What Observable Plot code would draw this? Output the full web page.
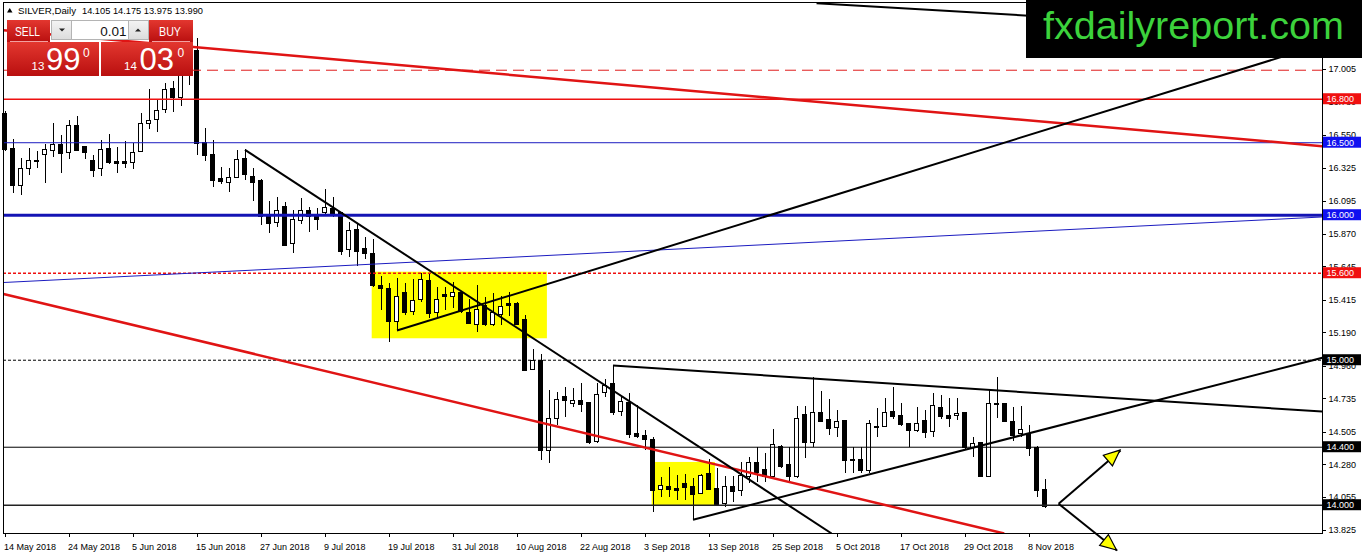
<!DOCTYPE html>
<html><head><meta charset="utf-8">
<script src="https://cdn.jsdelivr.net/npm/d3@7"></script>
<script src="https://cdn.jsdelivr.net/npm/@observablehq/plot@0.6"></script>
<style>
html,body{margin:0;padding:0;background:#fff;}
#chart{position:relative;width:1362px;height:554px;overflow:hidden;}
#chart svg{display:block;}
</style></head><body><div id="chart"></div>
<script>
// ---------------- DATA ----------------
const symbol = "SILVER,Daily";
const dates = [
"2018-05-14","2018-05-15","2018-05-16","2018-05-17","2018-05-18","2018-05-21","2018-05-22","2018-05-23","2018-05-24","2018-05-25","2018-05-28","2018-05-29","2018-05-30","2018-05-31",
"2018-06-01","2018-06-04","2018-06-05","2018-06-06","2018-06-07","2018-06-08","2018-06-11","2018-06-12","2018-06-13","2018-06-14","2018-06-15","2018-06-18","2018-06-19","2018-06-20","2018-06-21","2018-06-22","2018-06-25","2018-06-26","2018-06-27","2018-06-28","2018-06-29",
"2018-07-02","2018-07-03","2018-07-04","2018-07-05","2018-07-06","2018-07-09","2018-07-10","2018-07-11","2018-07-12","2018-07-13","2018-07-16","2018-07-17","2018-07-18","2018-07-19","2018-07-20","2018-07-23","2018-07-24","2018-07-25","2018-07-26","2018-07-27","2018-07-30","2018-07-31",
"2018-08-01","2018-08-02","2018-08-03","2018-08-06","2018-08-07","2018-08-08","2018-08-09","2018-08-10","2018-08-13","2018-08-14","2018-08-15","2018-08-16","2018-08-17","2018-08-20","2018-08-21","2018-08-22","2018-08-23","2018-08-24","2018-08-27","2018-08-28","2018-08-29","2018-08-30","2018-08-31",
"2018-09-03","2018-09-04","2018-09-05","2018-09-06","2018-09-07","2018-09-10","2018-09-11","2018-09-12","2018-09-13","2018-09-14","2018-09-17","2018-09-18","2018-09-19","2018-09-20","2018-09-21","2018-09-24","2018-09-25","2018-09-26","2018-09-27","2018-09-28",
"2018-10-01","2018-10-02","2018-10-03","2018-10-04","2018-10-05","2018-10-08","2018-10-09","2018-10-10","2018-10-11","2018-10-12","2018-10-15","2018-10-16","2018-10-17","2018-10-18","2018-10-19","2018-10-22","2018-10-23","2018-10-24","2018-10-25","2018-10-26","2018-10-29","2018-10-30","2018-10-31",
"2018-11-01","2018-11-02","2018-11-05","2018-11-06","2018-11-07","2018-11-08","2018-11-09","2018-11-12"];

const opens = [16.700,16.458,16.200,16.320,16.377,16.412,16.446,16.486,16.431,16.612,16.469,16.377,16.320,16.458,
16.370,16.364,16.362,16.435,16.630,16.658,16.727,16.872,16.810,16.980,17.136,16.497,16.412,16.248,16.221,16.258,16.389,16.267,16.233,16.005,15.945,
16.060,15.803,15.959,16.026,15.991,16.014,16.044,16.014,15.757,15.895,15.768,15.734,15.515,15.493,15.262,15.465,15.336,15.417,15.545,15.324,15.451,15.435,
15.462,15.324,15.246,15.377,15.246,15.313,15.385,15.385,15.278,14.934,14.993,14.372,14.596,14.745,14.699,14.722,14.704,14.435,14.773,14.833,14.641,14.704,14.493,
14.474,14.451,14.102,14.129,14.113,14.148,14.124,14.079,14.217,14.113,14.010,14.124,14.095,14.198,14.290,14.244,14.198,14.405,14.274,14.193,
14.619,14.428,14.635,14.585,14.534,14.578,14.314,14.314,14.235,14.538,14.538,14.640,14.612,14.557,14.511,14.578,14.504,14.672,14.612,14.612,14.635,14.396,14.428,
14.198,14.690,14.695,14.573,14.488,14.493,14.396,14.105];
const highs = [16.715,16.520,16.389,16.458,16.442,16.488,16.635,16.550,16.653,16.681,16.475,16.412,16.515,16.557,
16.465,16.508,16.497,16.699,16.865,16.796,16.906,16.924,17.020,17.300,17.219,16.596,16.515,16.331,16.320,16.446,16.451,16.320,16.244,16.097,16.124,
16.090,16.033,16.113,16.055,16.044,16.175,16.120,16.021,15.952,15.936,15.844,15.832,15.577,15.527,15.562,15.527,15.555,15.600,15.600,15.499,15.504,15.538,
15.469,15.417,15.515,15.434,15.458,15.440,15.469,15.400,15.308,15.072,15.039,14.791,14.779,14.814,14.803,14.838,14.710,14.838,14.865,14.964,14.750,14.773,14.688,
14.515,14.465,14.193,14.258,14.205,14.212,14.186,14.212,14.313,14.251,14.198,14.198,14.297,14.331,14.400,14.355,14.520,14.410,14.400,14.681,
14.681,14.879,14.787,14.727,14.653,14.585,14.396,14.396,14.585,14.665,14.734,14.814,14.699,14.560,14.676,14.653,14.768,14.757,14.734,14.734,14.640,14.469,14.435,
14.791,14.879,14.700,14.672,14.681,14.550,14.405,14.175];
const lows = [16.440,16.152,16.136,16.274,16.320,16.217,16.400,16.290,16.382,16.440,16.382,16.262,16.267,16.350,
16.290,16.320,16.313,16.430,16.591,16.573,16.699,16.706,16.750,16.895,16.412,16.373,16.193,16.212,16.155,16.250,16.239,16.097,15.929,15.876,15.913,
15.785,15.734,15.936,15.883,15.895,15.991,15.982,15.722,15.711,15.646,15.693,15.500,15.343,15.124,15.205,15.308,15.308,15.400,15.286,15.286,15.343,15.355,
15.320,15.246,15.193,15.233,15.233,15.240,15.302,15.240,14.920,14.930,14.308,14.286,14.549,14.607,14.672,14.641,14.420,14.428,14.740,14.619,14.612,14.458,14.458,
14.378,13.952,14.055,14.055,14.033,14.033,13.900,14.075,14.100,13.996,13.987,14.021,14.060,14.147,14.159,14.159,14.190,14.255,14.147,14.185,
14.320,14.400,14.570,14.481,14.469,14.217,14.217,14.217,14.221,14.465,14.535,14.589,14.545,14.400,14.505,14.458,14.469,14.589,14.538,14.584,14.382,14.327,14.189,
14.190,14.596,14.570,14.442,14.469,14.336,14.055,13.975];
const closes = [16.451,16.205,16.320,16.377,16.370,16.451,16.486,16.424,16.612,16.442,16.431,16.304,16.451,16.359,
16.352,16.355,16.431,16.630,16.653,16.722,16.865,16.807,16.980,17.150,16.488,16.407,16.235,16.228,16.255,16.382,16.274,16.221,15.986,15.941,16.028,
15.791,15.968,16.028,15.986,15.964,16.051,15.998,15.745,15.890,15.745,15.734,15.511,15.493,15.262,15.435,15.324,15.407,15.555,15.320,15.417,15.435,15.462,
15.331,15.251,15.348,15.240,15.324,15.366,15.371,15.246,14.924,14.993,14.372,14.596,14.727,14.722,14.722,14.692,14.428,14.757,14.819,14.635,14.710,14.481,14.469,
14.451,14.097,14.136,14.106,14.097,14.120,14.072,14.205,14.106,14.000,14.124,14.090,14.205,14.290,14.221,14.198,14.412,14.262,14.193,14.596,
14.428,14.635,14.573,14.527,14.573,14.307,14.304,14.235,14.557,14.531,14.635,14.607,14.550,14.515,14.557,14.497,14.681,14.607,14.596,14.631,14.396,14.419,14.193,
14.695,14.695,14.573,14.474,14.520,14.389,14.097,13.990];

const tickDates = ["2018-05-14","2018-05-24","2018-06-05","2018-06-15","2018-06-27","2018-07-09","2018-07-19","2018-07-31","2018-08-10","2018-08-22","2018-09-03","2018-09-13","2018-09-25","2018-10-05","2018-10-17","2018-10-29","2018-11-08"];
const tickLabels = ["14 May 2018","24 May 2018","5 Jun 2018","15 Jun 2018","27 Jun 2018","9 Jul 2018","19 Jul 2018","31 Jul 2018","10 Aug 2018","22 Aug 2018","3 Sep 2018","13 Sep 2018","25 Sep 2018","5 Oct 2018","17 Oct 2018","29 Oct 2018","8 Nov 2018"];
const yTicks = [17.005,16.780,16.550,16.325,16.095,15.870,15.645,15.415,15.190,14.960,14.735,14.505,14.280,14.055,13.825];

// horizontal levels (price) and which carry a price tag
const levels = [17.0, 16.8, 16.5, 16.0, 15.6, 15.0, 14.4, 14.0];
const taggedLevels = [16.8, 16.5, 16.0, 15.6, 15.0, 14.4, 14.0];

// trend lines: bar index / price of both ends
const trendNames = ["redTop","redLow","blueThin","blackDown","blackUp","blackTop","triUpper","triLower"];
const trendI1 = [-0.19, -0.19, -0.19, 30, 49, 101.44, 76, 86];
const trendP1 = [17.275, 15.457, 15.536, 16.451, 15.205, 17.462, 14.964, 13.900];
const trendI2 = [164.69, 124.9, 164.69, 103.33, 164.69, 164.69, 164.69, 164.69];
const trendP2 = [16.476, 13.805, 15.988, 13.805, 17.179, 17.257, 14.646, 15.017];

// highlighted zones
const boxI1 = [45.9, 80.9], boxI2 = [67.8, 88.8];
const boxP1 = [15.148, 13.991], boxP2 = [15.607, 14.295];

// scenario arrows
const arrowFromI = 131.7, arrowFromP = 14.010;
const arrowToI = [139.44, 139.0], arrowToP = [14.377, 13.688];

// trade panel quotes
const sellQuote = ["13", "99", "0"], buyQuote = ["14", "03", "0"], lotSize = "0.01";
const watermark = "fxdailyreport.com";

// ---------------- STYLES ----------------
const levelStyle = {
  "17": {stroke: "#e01c1c", w: 1, dash: "11,6"},
  "16.8": {stroke: "#ee1010", w: 1.4},
  "16.5": {stroke: "#1c1cc0", w: 1},
  "16": {stroke: "#1414b4", w: 3},
  "15.6": {stroke: "#ee1010", w: 1.3, dash: "3,2"},
  "15": {stroke: "#000", w: 1, dash: "3,2"},
  "14.4": {stroke: "#000", w: 1},
  "14": {stroke: "#222", w: 1.5}
};
const tagFill = {"16.8": "#f01010", "16.5": "#1010f0", "16": "#1010f0", "15.6": "#f01010", "15": "#000", "14.4": "#000", "14": "#000"};
const trendStyle = {
  redTop: {stroke: "#e01414", w: 2.5}, redLow: {stroke: "#e01414", w: 2.5},
  blueThin: {stroke: "#1c1cc0", w: 1}, blackDown: {stroke: "#000", w: 2},
  blackUp: {stroke: "#000", w: 2}, blackTop: {stroke: "#000", w: 2},
  triUpper: {stroke: "#000", w: 2}, triLower: {stroke: "#000", w: 2}
};

// ---------------- BUILD ----------------
const candles = dates.map((d, i) => ({i, d, o: opens[i], h: highs[i], l: lows[i], c: closes[i]}));
const tickIdx = tickDates.map(d => dates.indexOf(d));
const trends = trendNames.map((n, k) => ({n, i1: trendI1[k], p1: trendP1[k], i2: trendI2[k], p2: trendP2[k]}));
const boxes = boxI1.map((v, k) => ({i1: v, i2: boxI2[k], p1: boxP1[k], p2: boxP2[k]}));
const arrows = arrowToI.map((v, k) => ({i1: arrowFromI, p1: arrowFromP, i2: v, p2: arrowToP[k]}));

const XMIN = -0.1875, XMAX = 164.6875, YMIN = 13.805, YMAX = 17.4671;
const PX = 1 / 8;          // one pixel in bar units
const PY = 1 / 145;        // one pixel in price units

const marks = [
  Plot.rect(boxes, {x1: "i1", x2: "i2", y1: "p1", y2: "p2", fill: "#ffff00"}),
  Plot.ruleX(candles, {x: "i", y1: "l", y2: "h", stroke: "#000", strokeWidth: 1, shapeRendering: "crispEdges"}),
  Plot.rect(candles.filter(d => d.c >= d.o), {x1: d => d.i - 0.25, x2: d => d.i + 0.25, y1: "o", y2: "c", fill: "#fff", stroke: "#000", strokeWidth: 1, shapeRendering: "crispEdges"}),
  Plot.rect(candles.filter(d => d.c < d.o), {x1: d => d.i - 0.25, x2: d => d.i + 0.25, y1: "o", y2: "c", fill: "#000", stroke: "#000", strokeWidth: 1, shapeRendering: "crispEdges"}),
  ...levels.map(p => {
    const s = levelStyle[String(p)];
    return Plot.ruleY([p], {stroke: s.stroke, strokeWidth: s.w, strokeDasharray: s.dash});
  }),
  ...trends.map(t => Plot.link([t], {x1: "i1", y1: "p1", x2: "i2", y2: "p2", stroke: trendStyle[t.n].stroke, strokeWidth: trendStyle[t.n].w, clip: true})),
  Plot.frame({stroke: "#000", strokeWidth: 1, shapeRendering: "crispEdges"}),
  // right price axis
  Plot.ruleY(yTicks, {x1: XMAX, x2: XMAX + 4 * PX, stroke: "#000", shapeRendering: "crispEdges"}),
  Plot.text(yTicks, {y: d => d, frameAnchor: "right", dx: 6, textAnchor: "start", text: d => d.toFixed(3), fill: "#000", fontSize: 9}),
  // date axis
  Plot.ruleX(tickIdx, {x: d => d, y1: YMIN, y2: YMIN - 4 * PY, stroke: "#000", shapeRendering: "crispEdges"}),
  Plot.text(tickIdx, {x: d => d, frameAnchor: "bottom", lineAnchor: "bottom", dy: 16, dx: -1, textAnchor: "start", text: (d, j) => tickLabels[j], fill: "#000", fontSize: 9}),
  // price tags
  ...taggedLevels.map(p => Plot.rect([p], {x1: XMAX + PX, x2: XMAX + 39 * PX, y1: d => d - 5.5 * PY, y2: d => d + 5.5 * PY, fill: tagFill[String(p)]})),
  ...taggedLevels.map(p => Plot.text([p], {y: d => d, frameAnchor: "right", dx: 4, textAnchor: "start", text: d => d.toFixed(3), fill: "#fff", fontSize: 9})),
  // arrows shafts
  Plot.link(arrows, {x1: "i1", y1: "p1", x2: "i2", y2: "p2", stroke: "#000", strokeWidth: 2})
];

const chart = Plot.plot({
  width: 1362, height: 554,
  marginLeft: 3, marginRight: 40, marginTop: 2, marginBottom: 21,
  x: {domain: [XMIN, XMAX], axis: null},
  y: {domain: [YMIN, YMAX], axis: null},
  style: {fontFamily: "'Liberation Sans', Arial, sans-serif", fontSize: "9px", background: "#ffffff", overflow: "visible", color: "#000"},
  marks
});
document.getElementById("chart").appendChild(chart);

// ---------------- DECORATIONS (drawn with Plot's scales) ----------------
const sx = chart.scale("x"), sy = chart.scale("y");
const svg = d3.select(chart);
const FONT = "'Liberation Sans', Arial, sans-serif";

// arrowheads
arrows.forEach(a => {
  const x0 = sx.apply(a.i1), y0 = sy.apply(a.p1), x1 = sx.apply(a.i2), y1 = sy.apply(a.p2);
  const len = Math.hypot(x1 - x0, y1 - y0), ux = (x1 - x0) / len, uy = (y1 - y0) / len;
  const L = 16, Wd = 7, bx = x1 - ux * L, by = y1 - uy * L;
  svg.append("polygon")
    .attr("points", [[x1, y1], [bx - uy * Wd, by + ux * Wd], [bx + uy * Wd, by - ux * Wd]].map(p => p.join(",")).join(" "))
    .attr("fill", "#ffff00").attr("stroke", "#000").attr("stroke-width", 1.2).attr("stroke-linejoin", "miter");
});

const txt = (parent, x, y, s, str, opts = {}) => {
  const e = parent.append("text").attr("x", x).attr("y", y).attr("font-family", FONT).attr("font-size", s)
    .attr("fill", opts.fill || "#fff").attr("text-anchor", opts.anchor || "start").text(str);
  if (opts.len) e.attr("textLength", opts.len).attr("lengthAdjust", "spacingAndGlyphs");
  return e;
};

// header
svg.append("polygon").attr("points", "7,12.5 12.5,12.5 9.75,8").attr("fill", "#000");
const last = candles[candles.length - 1];
txt(svg, 18, 14, 9.7, symbol, {fill: "#000", len: 58});
txt(svg, 82, 14, 9.7, [last.o, last.h, last.l, last.c].map(v => v.toFixed(3)).join(" "), {fill: "#000", len: 121});

// trade panel
const defs = svg.append("defs");
const gr = defs.append("linearGradient").attr("id", "redg").attr("x1", 0).attr("y1", 0).attr("x2", 0).attr("y2", 1);
gr.append("stop").attr("offset", "0%").attr("stop-color", "#e3372f");
gr.append("stop").attr("offset", "100%").attr("stop-color", "#b90f0f");
const gg = defs.append("linearGradient").attr("id", "grayg").attr("x1", 0).attr("y1", 0).attr("x2", 0).attr("y2", 1);
gg.append("stop").attr("offset", "0%").attr("stop-color", "#f4f4f4");
gg.append("stop").attr("offset", "100%").attr("stop-color", "#dcdcdc");
const P = svg.append("g");
P.append("rect").attr("x", 7).attr("y", 20).attr("width", 43).attr("height", 22).attr("fill", "url(#redg)");
P.append("rect").attr("x", 149).attr("y", 20).attr("width", 44).attr("height", 22).attr("fill", "url(#redg)");
P.append("rect").attr("x", 51.5).attr("y", 20.5).attr("width", 20).attr("height", 19).attr("fill", "url(#grayg)").attr("stroke", "#b4b4b4");
P.append("rect").attr("x", 71.5).attr("y", 20.5).attr("width", 57).attr("height", 19).attr("fill", "#fff").attr("stroke", "#b4b4b4");
P.append("rect").attr("x", 128.5).attr("y", 20.5).attr("width", 20).attr("height", 19).attr("fill", "url(#grayg)").attr("stroke", "#b4b4b4");
P.append("polygon").attr("points", "59,28.5 65,28.5 62,31.5").attr("fill", "#222");
P.append("polygon").attr("points", "135,31.5 141,31.5 138,28.5").attr("fill", "#222");
P.append("rect").attr("x", 7).attr("y", 42).attr("width", 92).attr("height", 34).attr("fill", "url(#redg)");
P.append("rect").attr("x", 101).attr("y", 42).attr("width", 92).attr("height", 34).attr("fill", "url(#redg)");
P.append("line").attr("x1", 10).attr("x2", 48).attr("y1", 41.5).attr("y2", 41.5).attr("stroke", "#f2a0a0");
P.append("line").attr("x1", 152).attr("x2", 190).attr("y1", 41.5).attr("y2", 41.5).attr("stroke", "#f2a0a0");
txt(P, 15, 36, 13.5, "SELL", {len: 25});
txt(P, 159, 36, 13.5, "BUY", {len: 22});
txt(P, 126.5, 35.5, 13.5, lotSize, {fill: "#111", anchor: "end"});
txt(P, 31.5, 69.5, 11.5, sellQuote[0]);
txt(P, 46, 69.5, 31, sellQuote[1]);
txt(P, 83, 56.5, 12, sellQuote[2]);
txt(P, 124, 69.5, 11.5, buyQuote[0]);
txt(P, 139.5, 69.5, 31, buyQuote[1]);
txt(P, 177.5, 56.5, 12, buyQuote[2]);

// watermark
svg.append("rect").attr("x", 1026).attr("y", 0).attr("width", 336).attr("height", 58).attr("fill", "#000");
txt(svg, 1043, 38.5, 39, watermark, {fill: "#3cd23c", len: 301});
</script>
</body></html>
